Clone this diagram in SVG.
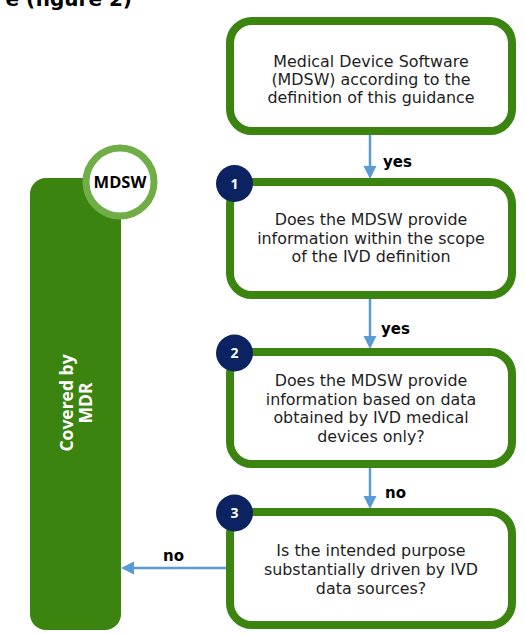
<svg xmlns="http://www.w3.org/2000/svg" width="525" height="634" viewBox="0 0 525 634">
  <style>
    .box { fill: #ffffff; stroke: #3a840f; stroke-width: 8; }
    .txt { font-family: "DejaVu Sans", Verdana, sans-serif; font-size: 15.9px; fill: #1e1e1e; text-anchor: middle; }
    .lbl { font-family: "DejaVu Sans", Verdana, sans-serif; font-size: 15px; font-weight: bold; fill: #000000; }
    .num { fill: #0b2461; }
    .numtxt { font-family: "Open Sans", "DejaVu Sans", sans-serif; font-size: 14px; font-weight: bold; fill: #ffffff; text-anchor: middle; }
    .conn { stroke: #5b9bd5; stroke-width: 2.5; fill: none; }
    .head { fill: #5b9bd5; }
  </style>

  <!-- heading, running off the top edge -->
  <text x="132" y="6" font-family="'DejaVu Sans', Verdana, sans-serif" font-size="20" font-weight="bold" text-anchor="end" fill="#000000">e (figure 2)</text>

  <!-- outcome bar -->
  <g id="covered-mdr">
    <rect x="30" y="178" width="91" height="452" rx="16" fill="#3a840f"/>
    <g transform="translate(0,403) rotate(-90)" font-family="'Open Sans', 'DejaVu Sans', sans-serif" font-weight="bold" font-size="17.5" fill="#ffffff" text-anchor="middle">
      <text x="0" y="73">Covered by</text>
      <text x="0" y="92">MDR</text>
    </g>
  </g>

  <!-- MDSW badge -->
  <g id="mdsw-badge">
    <circle cx="120" cy="182" r="34" fill="#ffffff" stroke="#70ad47" stroke-width="7"/>
    <text x="120" y="188" font-family="'Open Sans', 'DejaVu Sans', sans-serif" font-weight="bold" font-size="16.5" fill="#000000" text-anchor="middle">MDSW</text>
  </g>

  <!-- connectors -->
  <g id="connectors">
    <line class="conn" x1="370" y1="135" x2="370" y2="168"/>
    <polygon class="head" points="370,179 363.5,166 376.5,166"/>
    <text class="lbl" x="383" y="167">yes</text>

    <line class="conn" x1="370" y1="299" x2="370" y2="337"/>
    <polygon class="head" points="370,349 363.5,336 376.5,336"/>
    <text class="lbl" x="381" y="334">yes</text>

    <line class="conn" x1="370" y1="468" x2="370" y2="497"/>
    <polygon class="head" points="370,509 363.5,496 376.5,496"/>
    <text class="lbl" x="385" y="498">no</text>

    <line class="conn" x1="228" y1="568" x2="132" y2="568"/>
    <polygon class="head" points="121,568 134,561.5 134,574.5"/>
    <text class="lbl" x="163" y="561">no</text>
  </g>

  <!-- start node -->
  <g id="node-mdsw">
    <rect class="box" x="230" y="21" width="282" height="110" rx="22"/>
    <text class="txt" x="371" y="67">Medical Device Software</text>
    <text class="txt" x="371" y="85">(MDSW) according to the</text>
    <text class="txt" x="371" y="103">definition of this guidance</text>
  </g>

  <!-- question 1 -->
  <g id="node-q1">
    <rect class="box" x="230" y="182" width="282" height="113" rx="22"/>
    <text class="txt" x="371" y="225">Does the MDSW provide</text>
    <text class="txt" x="371" y="243.5">information within the scope</text>
    <text class="txt" x="371" y="262">of the IVD definition</text>
    <circle class="num" cx="234.5" cy="183.5" r="18.5"/>
    <text class="numtxt" x="234.5" y="188.5">1</text>
  </g>

  <!-- question 2 -->
  <g id="node-q2">
    <rect class="box" x="230" y="352" width="282" height="112" rx="22"/>
    <text class="txt" x="371" y="386">Does the MDSW provide</text>
    <text class="txt" x="371" y="404.5">information based on data</text>
    <text class="txt" x="371" y="423">obtained by IVD medical</text>
    <text class="txt" x="371" y="441.5">devices only?</text>
    <circle class="num" cx="234.5" cy="353" r="18.5"/>
    <text class="numtxt" x="234.5" y="358">2</text>
  </g>

  <!-- question 3 -->
  <g id="node-q3">
    <rect class="box" x="230" y="512" width="282" height="113" rx="22"/>
    <text class="txt" x="371" y="556">Is the intended purpose</text>
    <text class="txt" x="371" y="575">substantially driven by IVD</text>
    <text class="txt" x="371" y="594">data sources?</text>
    <circle class="num" cx="234.5" cy="513" r="18.5"/>
    <text class="numtxt" x="234.5" y="518">3</text>
  </g>
</svg>
